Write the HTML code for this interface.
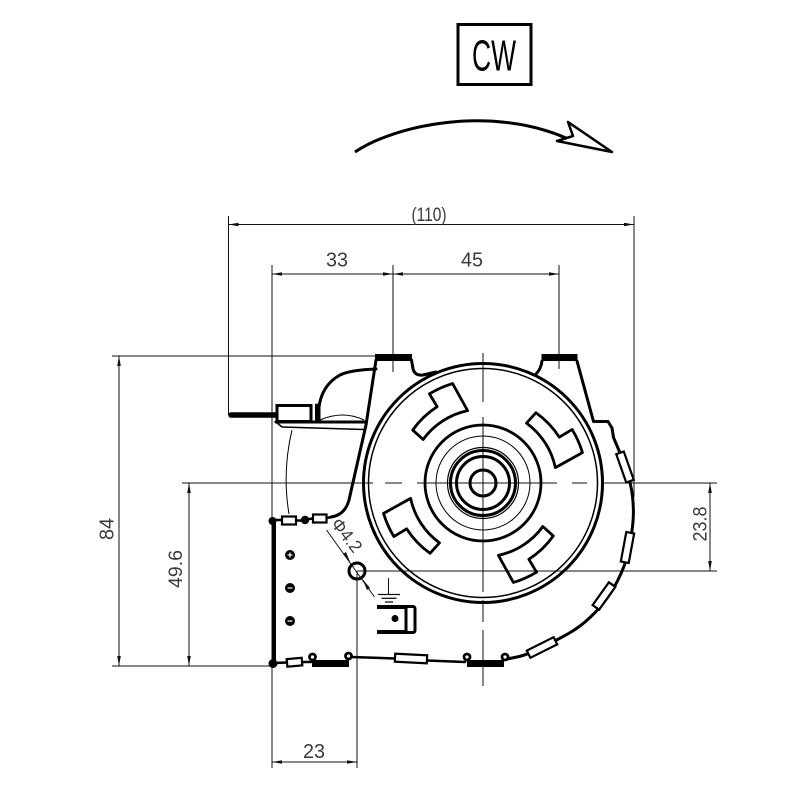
<!DOCTYPE html>
<html><head><meta charset="utf-8"><style>
html,body{margin:0;padding:0;background:#fff;}
svg{display:block;}
text{font-family:"Liberation Sans",sans-serif;}
</style></head><body>
<svg width="800" height="800" viewBox="0 0 800 800" xmlns="http://www.w3.org/2000/svg">
<rect width="800" height="800" fill="#fff"/>

<!-- CW box -->
<rect x="458" y="24.5" width="73" height="60" fill="none" stroke="#000" stroke-width="3"/>
<text x="494" y="70.5" font-size="44" text-anchor="middle" textLength="44" lengthAdjust="spacingAndGlyphs" fill="#000">CW</text>

<!-- rotation arrow -->
<path d="M355,152 C395,125 490,105 566,138" fill="none" stroke="#000" stroke-width="3"/>
<polygon points="612,152 568,122 573,136 557,141" fill="#fff" stroke="#000" stroke-width="2.5" stroke-linejoin="round"/>

<g stroke="#111" stroke-width="1" fill="none">
  <!-- (110) -->
  <line x1="228.5" y1="216" x2="228.5" y2="415"/>
  <line x1="634" y1="216" x2="634" y2="497"/>
  <line x1="228.5" y1="224.5" x2="634" y2="224.5"/>
  <!-- 33 / 45 -->
  <line x1="272" y1="265" x2="272" y2="768"/>
  <line x1="393" y1="265" x2="393" y2="372"/>
  <line x1="559" y1="265" x2="559" y2="369"/>
  <line x1="272" y1="274" x2="559" y2="274"/>
  <!-- 84 -->
  <line x1="112" y1="356" x2="376" y2="356"/>
  <line x1="112" y1="666" x2="274" y2="666"/>
  <line x1="119" y1="356" x2="119" y2="666"/>
  <!-- 49.6 -->
  <line x1="182" y1="483" x2="373" y2="483"/>
  <line x1="189" y1="483" x2="189" y2="666"/>
  <!-- 23.8 -->
  <line x1="603" y1="483" x2="717" y2="483"/>
  <line x1="357" y1="571" x2="717" y2="571"/>
  <line x1="710" y1="483" x2="710" y2="571"/>
  <!-- 23 -->
  <line x1="357" y1="571" x2="357" y2="768"/>
  <line x1="272" y1="762" x2="357" y2="762"/>
  <!-- centerlines -->
  <line x1="385" y1="483" x2="402" y2="483"/>
  <line x1="417" y1="483" x2="557" y2="483"/>
  <line x1="572" y1="483" x2="587" y2="483"/>
  <line x1="483" y1="353" x2="483" y2="402"/>
  <line x1="483" y1="417" x2="483" y2="592"/>
  <line x1="483" y1="600" x2="483" y2="622"/>
  <line x1="483" y1="630" x2="483" y2="686"/>
  <!-- leader phi -->
  <line x1="326.5" y1="530" x2="374.5" y2="597"/>
  <!-- ground -->
  <line x1="388.5" y1="578" x2="388.5" y2="594.5"/>
  <line x1="378" y1="594.5" x2="400" y2="594.5" stroke-width="1.3"/>
  <line x1="381.5" y1="598.3" x2="396.5" y2="598.3" stroke-width="1.3"/>
  <line x1="385" y1="602" x2="393" y2="602" stroke-width="1.3"/>
</g>

<!-- dimension arrowheads -->
<g fill="#111">
  <polygon points="228.5,224.5 238.5,222.7 238.5,226.3"/>
  <polygon points="634,224.5 624,222.7 624,226.3"/>
  <polygon points="272,274 282,272.2 282,275.8"/>
  <polygon points="393,274 383,272.2 383,275.8"/>
  <polygon points="393,274 403,272.2 403,275.8"/>
  <polygon points="559,274 549,272.2 549,275.8"/>
  <polygon points="119,356 117.2,366 120.8,366"/>
  <polygon points="119,666 117.2,656 120.8,656"/>
  <polygon points="189,483 187.2,493 190.8,493"/>
  <polygon points="189,666 187.2,656 190.8,656"/>
  <polygon points="710,483 708.2,493 711.8,493"/>
  <polygon points="710,571 708.2,561 711.8,561"/>
  <polygon points="272,762 282,760.2 282,763.8"/>
  <polygon points="357,762 347,760.2 347,763.8"/>
  <polygon points="350.5,563 343,554 346,552"/>
  <polygon points="362.5,579 370,588 367,590"/>
</g>

<!-- dimension texts -->
<g fill="#3a3a3a" font-size="18">
  <text x="429" y="221" text-anchor="middle" textLength="35" lengthAdjust="spacingAndGlyphs" font-size="19">(110)</text>
  <text x="337" y="266.5" text-anchor="middle" textLength="22" lengthAdjust="spacingAndGlyphs" font-size="20">33</text>
  <text x="472" y="266.5" text-anchor="middle" textLength="22" lengthAdjust="spacingAndGlyphs" font-size="20">45</text>
  <text x="314" y="758" text-anchor="middle" textLength="22" lengthAdjust="spacingAndGlyphs" font-size="20">23</text>
  <text transform="translate(113.5,529) rotate(-90)" text-anchor="middle" textLength="22" lengthAdjust="spacingAndGlyphs" font-size="20">84</text>
  <text transform="translate(182,569) rotate(-90)" text-anchor="middle" textLength="38" lengthAdjust="spacingAndGlyphs" font-size="19">49.6</text>
  <text transform="translate(706.5,524) rotate(-90)" text-anchor="middle" textLength="35" lengthAdjust="spacingAndGlyphs" font-size="19">23.8</text>
  <text transform="translate(342,539) rotate(52)" text-anchor="middle" textLength="38" lengthAdjust="spacingAndGlyphs" font-size="18">Φ4.2</text>
</g>

<!-- main circle -->
<g fill="none" stroke="#000">
  <circle cx="483" cy="483" r="119.5" stroke-width="3"/>
  <circle cx="483" cy="483" r="114.5" stroke-width="1.5"/>
  <circle cx="483" cy="483" r="58" stroke-width="2.8"/>
  <circle cx="483" cy="483" r="47" stroke-width="1"/>
  <circle cx="483" cy="483" r="35.5" stroke-width="1.2"/>
  <circle cx="483" cy="483" r="32.5" stroke-width="3"/>
  <circle cx="483" cy="483" r="26.5" stroke-width="3"/>
  <circle cx="483" cy="483" r="13" stroke-width="3"/>
</g>

<!-- slots -->
<g fill="none" stroke="#000" stroke-width="2.8" stroke-linejoin="round">
  <path d="M423.13,439.5 A74,74 0 0 1 467.61,410.62 L452.59,383.54 A104,104 0 0 0 429.44,393.85 L437.16,406.71 A88.5,88.5 0 0 0 412.72,430.04 Z"/>
  <path transform="rotate(90 483 483)" d="M423.13,439.5 A74,74 0 0 1 467.61,410.62 L452.59,383.54 A104,104 0 0 0 429.44,393.85 L437.16,406.71 A88.5,88.5 0 0 0 412.72,430.04 Z"/>
  <path transform="rotate(180 483 483)" d="M423.13,439.5 A74,74 0 0 1 467.61,410.62 L452.59,383.54 A104,104 0 0 0 429.44,393.85 L437.16,406.71 A88.5,88.5 0 0 0 412.72,430.04 Z"/>
  <path transform="rotate(270 483 483)" d="M423.13,439.5 A74,74 0 0 1 467.61,410.62 L452.59,383.54 A104,104 0 0 0 429.44,393.85 L437.16,406.71 A88.5,88.5 0 0 0 412.72,430.04 Z"/>
</g>

<!-- housing -->
<g fill="none" stroke="#000" stroke-width="3" stroke-linejoin="round" stroke-linecap="round">
  <path d="M376,360 L366,425 L349,500 Q345,515 331,517"/>
  <path d="M411.5,360 L413,369 Q415,376 423,375 L436,372"/>
  <path d="M542,361 Q541,369 536,374"/>
  <path d="M577,361 L580,372 L593.5,421.5 L608,421.5 L612,428"/>
  <path d="M612,428 L613.5,437.5 Q620,452 625.5,467.5 Q631,483 632.5,496.5 Q634,510 633,521.5 Q632,533 629.5,546.5 Q627,560 621,573.5 Q615,587 607.5,597.5 Q600,608 590,617.5 Q580,627 568.5,633.5 Q557,640 542,647.5 Q527,655 517,657 L507,659"/>
  <path d="M319,421 L319,407 Q322,385 340,375 Q350,370 376,369"/>
  <line x1="316.5" y1="405" x2="316.5" y2="421"/>
  <line x1="276" y1="422" x2="366" y2="422"/>
  <line x1="274" y1="520" x2="274" y2="664" stroke-width="4"/>
  <path d="M274,663 L287,662.5" stroke-width="2.5"/>
  <path d="M302,662 L311,662" stroke-width="2.5"/>
  <path d="M351,657 L395,658.5" stroke-width="2.5"/>
  <path d="M427,660.5 L465,662" stroke-width="2.5"/>
  <path d="M274,520 L282,520" stroke-width="2.5"/>
  <path d="M296,520.5 L301,520.5" stroke-width="2.5"/>
  <path d="M309,519 L313,518.5" stroke-width="2.5"/>
  <path d="M326.5,518 L332,517" stroke-width="2.5"/>
</g>
<g fill="none" stroke="#000" stroke-width="1">
  <path d="M282,427 L364,429.5" stroke-width="1.6"/>
  <path d="M276,422 L282,427" stroke-width="1.6"/>
  <path d="M320,420 Q343,410 364,420"/>
  <path d="M292,430 Q282,472 289,514"/>
</g>

<!-- boss bars -->
<rect x="375" y="354" width="37" height="7" fill="#000"/>
<rect x="541.5" y="354" width="36" height="7" fill="#000"/>

<!-- cable box & wire -->
<line x1="231" y1="415" x2="277" y2="415" stroke="#000" stroke-width="5.5" stroke-linecap="round"/>
<rect x="277" y="405.5" width="34" height="16" fill="#fff" stroke="#000" stroke-width="3"/>

<!-- top connector parts -->
<circle cx="272.5" cy="521" r="4" fill="#000"/>
<rect x="282" y="516.5" width="14" height="8" fill="#fff" stroke="#000" stroke-width="2.2"/>
<circle cx="305" cy="520" r="4.2" fill="#000"/>
<rect x="313" y="514.5" width="13.5" height="8" fill="#fff" stroke="#000" stroke-width="2.2"/>

<!-- screws -->
<g>
  <circle cx="290" cy="555" r="5" fill="#000"/>
  <circle cx="290" cy="588" r="5" fill="#000"/>
  <circle cx="290" cy="621" r="5" fill="#000"/>
  <line x1="287.5" y1="555" x2="292.5" y2="555" stroke="#fff" stroke-width="1.2"/>
  <line x1="290" y1="552.5" x2="290" y2="557.5" stroke="#fff" stroke-width="1.2"/>
  <line x1="287.5" y1="588" x2="292.5" y2="588" stroke="#fff" stroke-width="1.2"/>
  <line x1="287.5" y1="621" x2="292.5" y2="621" stroke="#fff" stroke-width="1.2"/>
</g>

<!-- bottom blobs and bars -->
<circle cx="273" cy="663.5" r="4.5" fill="#000"/>
<rect x="287" y="658.5" width="15" height="7.5" fill="#fff" stroke="#000" stroke-width="2.2" transform="rotate(-5 294.5 662)"/>
<rect x="312" y="660" width="37" height="7" fill="#000"/>
<rect x="467" y="660" width="37" height="7" fill="#000"/>
<g fill="#fff" stroke="#000" stroke-width="2.8">
  <circle cx="312.5" cy="657" r="3"/>
  <circle cx="348.5" cy="656" r="3"/>
  <circle cx="467" cy="657" r="3"/>
  <circle cx="505" cy="657" r="3"/>
</g>
<rect x="395" y="654.5" width="32" height="8" fill="#fff" stroke="#000" stroke-width="2.2" transform="rotate(3 411 658.5)"/>

<!-- spiral rects -->
<g fill="#fff" stroke="#000" stroke-width="2.2">
  <rect x="610" y="463" width="30" height="8" transform="rotate(70.5 625 467)"/>
  <rect x="612.5" y="543.5" width="30" height="8" transform="rotate(100.5 627.5 547.5)"/>
  <rect x="590" y="592" width="28" height="8" transform="rotate(125.5 604 596)"/>
  <rect x="527" y="643.5" width="30" height="8" transform="rotate(153.4 542 647.5)"/>
</g>

<!-- hole -->
<circle cx="357" cy="571" r="8" fill="none" stroke="#000" stroke-width="3"/>

<!-- terminal -->
<path d="M377,607 H409 M377,632 H409" stroke="#000" stroke-width="4" fill="none"/>
<rect x="406" y="606.5" width="9" height="26" rx="2" fill="#fff" stroke="#000" stroke-width="3"/>
<circle cx="395" cy="618.5" r="3.5" fill="#000"/>

</svg>
</body></html>
